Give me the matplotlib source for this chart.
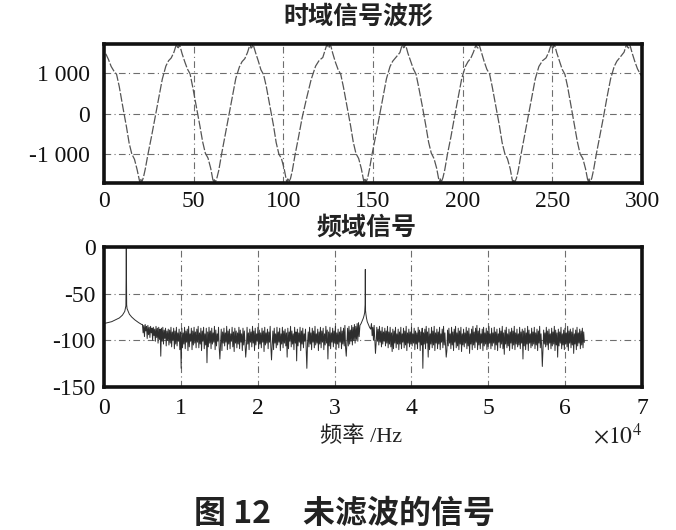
import numpy as np
import matplotlib
matplotlib.use("Agg")
import matplotlib.pyplot as plt

# ---- time-domain samples ----
time_x = [
    1, 2.5, 4, 5.5, 7, 8.5, 10.5, 12.5, 14, 15.5, 17, 18.5, 19.5, 20, 20.5, 21, 22, 23, 24.5, 26.5, 28.5, 30.5, 32.5, 34.5, 36, 37.5,
    39, 40, 40.5, 41, 41.5, 42, 42.5, 43.5, 45, 46.5, 48, 49.5, 51.5, 53.5, 55, 56.5, 58, 59.5, 60.5, 61, 61.5, 62, 63, 64, 65.5, 67.5, 69.5, 71.5, 73.5, 75.5, 77, 78.5,
    80, 81, 81.5, 82, 82.5, 83, 83.5, 84.5, 86, 87.5, 89, 90.5, 92.5, 94.5, 96, 97.5, 99, 100.5, 101.5, 102, 102.5, 103, 104, 105, 106.5, 108.5, 110.5, 113, 115.5, 118, 120, 122,
    123, 124, 124.5, 125, 125.5, 126, 126.5, 127.5, 129, 130.5, 132, 133.5, 135.5, 137.5, 139, 140.5, 142, 143.5, 144.5, 145, 145.5, 146, 147, 148, 149.5, 151.5, 153.5, 155.5, 157.5, 159.5, 161, 162.5,
    165, 166, 166.5, 167, 167.5, 168, 168.5, 169.5, 171, 172.5, 174, 175.5, 177.5, 179.5, 181, 182.5, 184, 185.5, 186.5, 187, 187.5, 188, 189, 190, 191.5, 193.5, 195.5, 197.5, 199.5, 201.5, 203, 204.5,
    206, 207, 207.5, 208, 208.5, 209, 209.5, 210.5, 212, 213.5, 215, 216.5, 218.5, 220.5, 222, 223.5, 225, 226.5, 227.5, 228, 228.5, 229, 230, 231, 232.5, 234.5, 236.5, 238.5, 240.5, 242.5, 244.5, 246.5,
    248, 249, 249.5, 250, 250.5, 251, 251.5, 252.5, 254, 255.5, 257, 258.5, 260.5, 262.5, 264, 265.5, 267, 268.5, 269.5, 270, 270.5, 271, 272, 273, 274.5, 276.5, 278.5, 280.5, 282.5, 284.5, 286, 287.5,
    290, 291, 291.5, 292, 292.5, 293, 293.5, 294.5, 296, 297.5, 299, 300,
]
time_y = [
    1460, 1320, 1150, 1040, 960, 660, 160, -320, -720, -990, -1120, -1380, -1580, -1690, -1600, -1690, -1560, -1360, -1000, -560, -90, 390, 840, 1160, 1290, 1360,
    1500, 1640, 1690, 1620, 1610, 1690, 1630, 1470, 1270, 1090, 970, 640, 170, -310, -690, -970, -1090, -1340, -1570, -1690, -1620, -1690, -1570, -1390, -1010, -540, -70, 410, 860, 1140, 1270, 1340,
    1490, 1630, 1690, 1600, 1620, 1690, 1640, 1490, 1290, 1070, 950, 660, 190, -290, -710, -990, -1110, -1360, -1590, -1690, -1600, -1680, -1590, -1400, -1020, -570, -100, 380, 830, 1160, 1300, 1370,
    1510, 1650, 1690, 1630, 1600, 1690, 1650, 1480, 1260, 1080, 960, 650, 170, -300, -700, -980, -1100, -1350, -1580, -1690, -1610, -1690, -1580, -1370, -990, -550, -80, 400, 850, 1150, 1280, 1360,
    1490, 1640, 1690, 1610, 1620, 1690, 1630, 1470, 1280, 1090, 960, 640, 180, -310, -700, -970, -1100, -1340, -1580, -1690, -1600, -1690, -1570, -1380, -1000, -560, -70, 400, 860, 1150, 1270, 1350,
    1500, 1630, 1690, 1620, 1600, 1690, 1640, 1490, 1270, 1080, 970, 650, 170, -300, -710, -980, -1110, -1350, -1590, -1690, -1610, -1690, -1580, -1390, -1010, -550, -80, 390, 850, 1150, 1290, 1360,
    1500, 1640, 1690, 1610, 1610, 1690, 1640, 1480, 1280, 1080, 960, 660, 170, -310, -700, -990, -1100, -1350, -1580, -1690, -1600, -1690, -1580, -1380, -1000, -550, -90, 400, 850, 1150, 1280, 1360,
    1500, 1640, 1690, 1620, 1600, 1690, 1640, 1480, 1270, 1090, 970, 900,
]

# ---- spectrum (x in units of 1e4 Hz, y in dB) ----
peak1_f = [0.0, 0.05, 0.1, 0.15, 0.2, 0.24, 0.27, 0.285, 0.29, 0.295, 0.30, 0.31, 0.33, 0.36, 0.4, 0.45, 0.49]
peak1_db = [-82, -81, -80, -78, -76, -73, -69, -63, -1, -62, -66, -68, -72, -75, -78, -81, -83]

# noise floor 0.5 .. 3.32 (x 1e4 Hz), evenly spaced bins
noise1_db = [
    -83, -92, -84, -96, -83, -90, -85, -98, -84, -94, -86, -97, -85, -92, -87, -100, -86, -95, -88, -101,
    -85, -97, -87, -103, -86, -99, -88, -117, -87, -101, -86, -104, -89, -98, -87, -106, -90, -100, -88, -105,
    -89, -103, -86, -107, -91, -100, -87, -109, -90, -104, -86, -106, -92, -101, -88, -110, -91, -130, -87, -108,
    -92, -104, -86, -109, -90, -102, -88, -111, -85, -107, -93, -101, -87, -110, -90, -105, -86, -103, -91, -108,
    -88, -102, -85, -108, -92, -104, -87, -111, -90, -101, -86, -109, -93, -105, -87, -124, -91, -107, -86, -103,
    -90, -109, -87, -104, -92, -102, -85, -110, -89, -106, -93, -101, -86, -108, -120, -105, -88, -111, -91, -103,
    -87, -106, -92, -102, -85, -110, -90, -104, -88, -109, -93, -101, -86, -107, -91, -112, -87, -103, -90, -108,
    -92, -104, -86, -109, -89, -102, -93, -111, -87, -105, -90, -103, -118, -108, -86, -104, -92, -110, -88, -102,
    -91, -107, -85, -103, -90, -111, -87, -105, -93, -101, -86, -109, -89, -104, -92, -108, -87, -102, -90, -112,
    -86, -105, -92, -103, -88, -109, -91, -102, -85, -107, -121, -104, -90, -110, -87, -103, -93, -108, -86, -105,
    -91, -102, -87, -111, -93, -104, -86, -108, -90, -103, -88, -106, -92, -118, -87, -109, -91, -101, -85, -107,
    -90, -104, -93, -110, -86, -103, -91, -122, -88, -106, -92, -102, -86, -111, -90, -104, -87, -108, -93, -101,
    -88, -109, -130, -103, -91, -107, -86, -104, -92, -110, -87, -102, -90, -108, -85, -105, -93, -103, -88, -111,
    -91, -104, -86, -108, -90, -102, -87, -110, -93, -105, -85, -103, -89, -120, -91, -106, -86, -109, -92, -102,
    -87, -107, -90, -103, -85, -110, -92, -104, -88, -108, -91, -102, -86, -109, -90, -104, -87, -106, -84, -108,
    -117, -103, -87, -106, -85, -104, -89, -101, -84, -105, -86, -100, -83, -103, -85, -99, -82, -101, -81, -96,
]

peak2_f = [3.33, 3.345, 3.36, 3.375, 3.385, 3.392, 3.397, 3.40, 3.403, 3.408, 3.415, 3.425, 3.44, 3.455, 3.47]
peak2_db = [-84, -82, -79, -76, -73, -70, -62, -24, -68, -72, -76, -80, -83, -86, -88]

# noise floor 3.48 .. 6.25 (x 1e4 Hz)
noise2_db = [
    -82, -95, -86, -100, -84, -98, -114, -103, -86, -101, -88, -105, -85, -102, -90, -107, -86, -104, -91, -101,
    -87, -106, -90, -103, -85, -108, -91, -104, -86, -107, -92, -112, -88, -109, -90, -103, -86, -108, -93, -104,
    -88, -110, -91, -104, -86, -109, -93, -102, -87, -108, -90, -105, -85, -111, -92, -103, -88, -107, -91, -104,
    -86, -106, -93, -103, -87, -110, -90, -104, -92, -109, -86, -102, -89, -111, -91, -105, -87, -130, -92, -104,
    -88, -109, -85, -103, -91, -118, -87, -110, -93, -104, -86, -108, -90, -105, -85, -111, -92, -103, -88, -109,
    -91, -104, -86, -110, -93, -102, -88, -108, -85, -105, -92, -104, -118, -111, -89, -106, -87, -103, -93, -109,
    -86, -105, -91, -111, -88, -102, -85, -108, -92, -106, -87, -110, -90, -104, -86, -112, -93, -105, -88, -107,
    -92, -103, -86, -109, -90, -106, -87, -114, -93, -104, -88, -110, -85, -105, -91, -108, -87, -102, -84, -110,
    -90, -105, -87, -109, -93, -103, -88, -111, -86, -106, -92, -104, -87, -110, -90, -107, -85, -103, -93, -109,
    -87, -106, -92, -103, -86, -110, -91, -105, -88, -111, -93, -102, -87, -108, -90, -104, -85, -109, -92, -115,
    -89, -104, -86, -108, -93, -106, -88, -111, -91, -103, -87, -109, -90, -105, -85, -110, -92, -104, -88, -107,
    -93, -105, -86, -109, -91, -103, -88, -120, -90, -106, -87, -110, -92, -104, -85, -111, -89, -103, -93, -108,
    -87, -106, -91, -104, -86, -109, -92, -105, -88, -111, -90, -103, -85, -108, -93, -106, -128, -110, -89, -104,
    -92, -107, -86, -105, -90, -110, -88, -103, -93, -109, -87, -106, -91, -104, -85, -111, -89, -105, -92, -118,
    -88, -106, -91, -103, -86, -109, -93, -105, -89, -110, -87, -104, -92, -107, -85, -111, -90, -103, -88, -108,
    -91, -105, -87, -114, -93, -104, -89, -110, -86, -106, -92, -103, -88, -109, -90, -105, -87, -108, -91, -102,
]

time_ticks = [0, 50, 100, 150, 200, 250, 300]
time_yticks = [-1000, 0, 1000]
time_ylabels = ["-1 000", "0", "1 000"]
freq_ticks = [0, 1, 2, 3, 4, 5, 6, 7]
db_ticks = [0, -50, -100, -150]

num_font = "Liberation Serif"
cjk = ["Noto Sans CJK SC", "DejaVu Sans"]
serif_cjk = ["Liberation Serif", "Noto Sans CJK SC"]
grid_style = dict(color="#6e6e6e", linestyle=(0, (6, 3, 1, 3)), linewidth=0.8)

fig = plt.figure(figsize=(6.76, 5.30), dpi=100)
W, H = 676.0, 530.0

def rect(l, t, r, b):
    return [l / W, 1 - b / H, (r - l) / W, (b - t) / H]

def style_axes(ax):
    for sp in ax.spines.values():
        sp.set_linewidth(2.6)
        sp.set_color("#111111")
    ax.grid(True, **grid_style)
    ax.set_axisbelow(True)
    ax.tick_params(length=0)
    for lab in ax.get_xticklabels() + ax.get_yticklabels():
        lab.set_fontfamily(num_font)
        lab.set_fontsize(17)
        lab.set_color("#111111")

# top: time-domain waveform
ax1 = fig.add_axes(rect(104, 44, 642, 183))
ax1.plot(time_x, time_y, color="#555555", linewidth=0.9, linestyle=(0, (7, 1.5)))
ax1.set_xlim(0, 300)
ax1.set_ylim(-1700, 1700)
ax1.set_xticks(time_ticks)
ax1.set_yticks(time_yticks)
ax1.set_yticklabels(time_ylabels)
style_axes(ax1)
ax1.tick_params(axis="y", pad=10)
ax1.tick_params(axis="x", pad=6)

# bottom: spectrum
f1 = np.linspace(0.5, 3.32, len(noise1_db))
f2 = np.linspace(3.48, 6.25, len(noise2_db))
spec_f = np.concatenate([peak1_f, f1, peak2_f, f2])
spec_db = np.concatenate([peak1_db, noise1_db, peak2_db, noise2_db])

ax2 = fig.add_axes(rect(104, 247, 642, 387))
ax2.plot(spec_f, spec_db, color="#2e2e2e", linewidth=0.7)
ax2.set_xlim(0, 7)
ax2.set_ylim(-150, 0)
ax2.set_xticks(freq_ticks)
ax2.set_yticks(db_ticks)
ax2.set_yticklabels([str(v) for v in db_ticks])
style_axes(ax2)
ax2.tick_params(axis="y", pad=6)
ax2.tick_params(axis="x", pad=8)

# titles, labels, caption
fig.text(358 / W, 1 - 17 / H, "时域信号波形", family=cjk, fontsize=18, fontweight="bold",
         ha="center", va="center", color="#222222")
fig.text(366 / W, 1 - 228 / H, "频域信号", family=cjk, fontsize=18, fontweight="bold",
         ha="center", va="center", color="#222222")
fig.text(361 / W, 1 - 437 / H, "频率 /Hz", family=serif_cjk,
         fontsize=16, ha="center", va="center", color="#222222")
fig.text(642 / W, 1 - 436 / H, r"$\times10^{4}$", fontsize=17, ha="right", va="center",
         color="#222222", math_fontfamily="stix")
fig.text(345 / W, 1 - 514 / H, "图 12　未滤波的信号", family=cjk, fontsize=23, fontweight="bold",
         ha="center", va="center", color="#222222")

fig.savefig("out.png", dpi=100)
